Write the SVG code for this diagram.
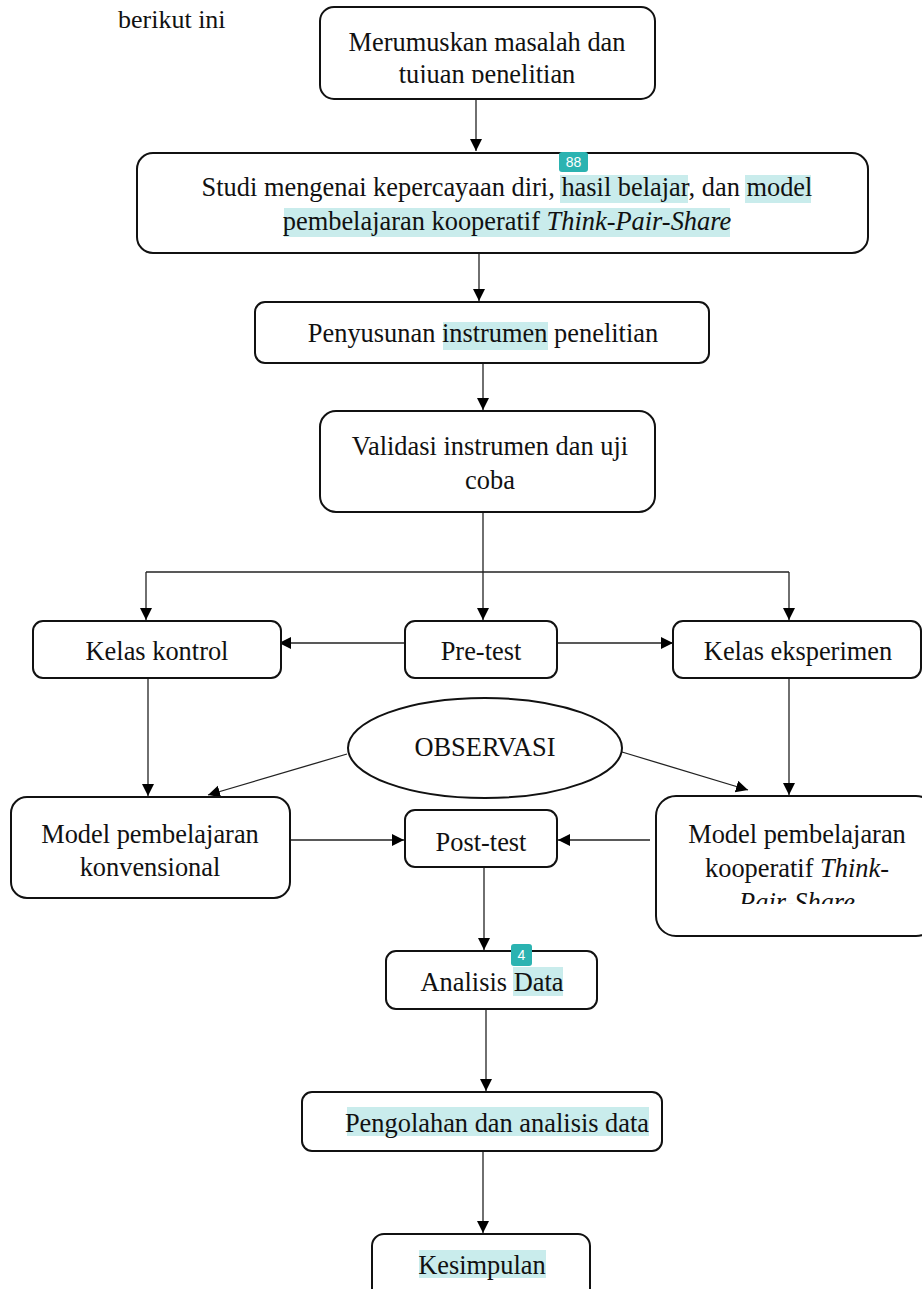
<svg xmlns="http://www.w3.org/2000/svg" width="922" height="1289" viewBox="0 0 922 1289">
<style>
.box{fill:#fff;stroke:#111;stroke-width:2}
.t{font-family:"Liberation Serif","Times New Roman",serif;font-size:26.4px;fill:#111;text-anchor:middle}
.hl{fill:#c9ecec}
.badge{fill:#2bb3b1}
.bt{font-family:"Liberation Sans",Arial,sans-serif;font-size:14px;fill:#fff;text-anchor:middle}
.c{stroke:#222;stroke-width:1.3;fill:none;marker-end:url(#ah)}
.l{stroke:#222;stroke-width:1.3;fill:none}
</style>
<defs>
<marker id="ah" markerUnits="userSpaceOnUse" markerWidth="14" markerHeight="14" refX="12" refY="6" orient="auto">
<path d="M0,0 L12,6 L0,12 Z" fill="#000"/>
</marker>
<clipPath id="c1"><rect x="320" y="7" width="335" height="76"/></clipPath>
<clipPath id="c2"><rect x="656" y="796" width="266" height="108"/></clipPath>
</defs>
<rect width="922" height="1289" fill="#fff"/>
<text x="118" y="28" style="font-family:'Liberation Serif','Times New Roman',serif;font-size:26px;fill:#111">berikut ini</text>

<g id="connectors">
<line class="c" x1="476" y1="100" x2="476" y2="151"/>
<line class="c" x1="479" y1="254" x2="479" y2="301"/>
<line class="c" x1="483" y1="364" x2="483" y2="410"/>
<line class="l" x1="483" y1="512" x2="483" y2="572"/>
<line class="l" x1="146" y1="572" x2="789" y2="572"/>
<line class="c" x1="146" y1="572" x2="146" y2="620"/>
<line class="c" x1="483" y1="572" x2="483" y2="620"/>
<line class="c" x1="789" y1="572" x2="789" y2="620"/>
<line class="c" x1="405" y1="643" x2="279" y2="643"/>
<line class="c" x1="557" y1="643" x2="673" y2="643"/>
<line class="c" x1="148" y1="678" x2="148" y2="796"/>
<line class="c" x1="789" y1="678" x2="789" y2="795"/>
<line class="c" x1="347" y1="754" x2="208" y2="795"/>
<line class="c" x1="622" y1="752" x2="748" y2="790"/>
<line class="c" x1="290" y1="840" x2="404" y2="840"/>
<line class="c" x1="650" y1="840" x2="558" y2="840"/>
<line class="c" x1="484" y1="867" x2="484" y2="950"/>
<line class="c" x1="486" y1="1010" x2="486" y2="1091"/>
<line class="c" x1="483" y1="1151" x2="483" y2="1233"/>
</g>

<g id="n1">
<rect class="box" x="320" y="7" width="335" height="92" rx="14"/>
<text class="t" x="487" y="51">Merumuskan masalah dan</text>
<text class="t" x="487" y="83" clip-path="url(#c1)">tujuan penelitian</text>
</g>

<g id="n2">
<rect class="box" x="137" y="153" width="731" height="100" rx="16"/>
<rect class="hl" x="560" y="175" width="128" height="28"/>
<rect class="hl" x="745" y="175" width="66" height="28"/>
<rect class="hl" x="284" y="208" width="446" height="29"/>
<text class="t" x="507" y="196">Studi mengenai kepercayaan diri, hasil belajar, dan model</text>
<text class="t" x="507" y="230">pembelajaran kooperatif <tspan font-style="italic">Think-Pair-Share</tspan></text>
<rect class="badge" x="559" y="152" width="29" height="20" rx="3"/>
<text class="bt" x="573.5" y="167">88</text>
</g>

<g id="n3">
<rect class="box" x="255" y="302" width="454" height="61" rx="10"/>
<rect class="hl" x="443" y="322" width="105" height="28"/>
<text class="t" x="483" y="342">Penyusunan instrumen penelitian</text>
</g>

<g id="n4">
<rect class="box" x="320" y="411" width="335" height="101" rx="16"/>
<text class="t" x="490" y="455">Validasi instrumen dan uji</text>
<text class="t" x="490" y="489">coba</text>
</g>

<g id="n5">
<rect class="box" x="33" y="621" width="248" height="57" rx="10"/>
<text class="t" x="157" y="660">Kelas kontrol</text>
</g>

<g id="n6">
<rect class="box" x="405" y="621" width="152" height="57" rx="10"/>
<text class="t" x="481" y="660">Pre-test</text>
</g>

<g id="n7">
<rect class="box" x="673" y="621" width="248" height="57" rx="10"/>
<text class="t" x="798" y="660">Kelas eksperimen</text>
</g>

<g id="n8">
<ellipse class="box" cx="485" cy="748" rx="137" ry="50"/>
<text class="t" x="485" y="756">OBSERVASI</text>
</g>

<g id="n9">
<rect class="box" x="11" y="797" width="279" height="101" rx="16"/>
<text class="t" x="150" y="843">Model pembelajaran</text>
<text class="t" x="150" y="876">konvensional</text>
</g>

<g id="n10">
<rect class="box" x="405" y="810" width="152" height="57" rx="10"/>
<text class="t" x="481" y="851">Post-test</text>
</g>

<g id="n11">
<rect class="box" x="656" y="796" width="280" height="140" rx="20"/>
<text class="t" x="797" y="843">Model pembelajaran</text>
<text class="t" x="797" y="877">kooperatif <tspan font-style="italic">Think-</tspan></text>
<text class="t" x="797" y="911" font-style="italic" clip-path="url(#c2)">Pair-Share</text>
</g>

<g id="n12">
<rect class="box" x="386" y="951" width="211" height="58" rx="10"/>
<rect class="hl" x="513" y="967" width="50" height="29"/>
<text class="t" x="492" y="991">Analisis Data</text>
<rect class="badge" x="511" y="944" width="21" height="22" rx="3"/>
<text class="bt" x="521.5" y="960">4</text>
</g>

<g id="n13">
<rect class="box" x="302" y="1092" width="360" height="59" rx="10"/>
<rect class="hl" x="347" y="1107" width="302" height="29"/>
<text class="t" x="497" y="1132">Pengolahan dan analisis data</text>
</g>

<g id="n14">
<rect class="box" x="372" y="1234" width="218" height="70" rx="12"/>
<rect class="hl" x="419" y="1250" width="127" height="28"/>
<text class="t" x="482" y="1274">Kesimpulan</text>
</g>
</svg>
